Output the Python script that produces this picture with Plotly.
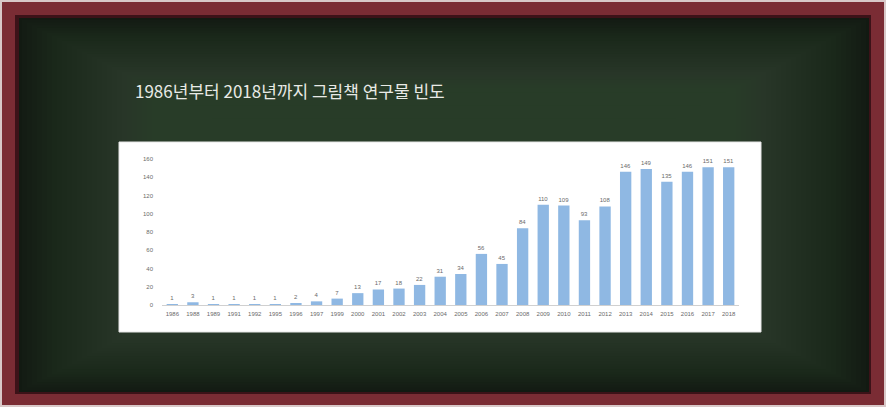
import plotly.graph_objects as go

years = ["1986", "1988", "1989", "1991", "1992", "1995", "1996", "1997", "1999", "2000",
         "2001", "2002", "2003", "2004", "2005", "2006", "2007", "2008", "2009", "2010",
         "2011", "2012", "2013", "2014", "2015", "2016", "2017", "2018"]
counts = [1, 3, 1, 1, 1, 1, 2, 4, 7, 13,
          17, 18, 22, 31, 34, 56, 45, 84, 110, 109,
          93, 108, 146, 149, 135, 146, 151, 151]
y_ticks = [0, 20, 40, 60, 80, 100, 120, 140, 160]
title_text = "1986년부터 2018년까지 그림책 연구물 빈도"

W, H = 886, 407
L, R, T, B = 162, 147, 159, 102
pw, ph = W - L - R, H - T - B


def px(x):
    return (x - L) / pw


def py(y):
    return (H - B - y) / ph


def rect(x0, y0, x1, y1, fill, line=None, lw=0, opacity=1.0):
    return dict(type="rect", xref="paper", yref="paper", layer="below",
                x0=px(x0), x1=px(x1), y0=py(y1), y1=py(y0),
                fillcolor=fill, opacity=opacity,
                line=dict(color=line or "rgba(0,0,0,0)", width=lw))


shapes = []
# outer frame
shapes.append(rect(0, 0, W, H, "#d8c8c8"))
shapes.append(rect(2, 2, W - 2, H - 2, "#7a2c34"))
shapes.append(rect(15, 15, W - 15, H - 13, "#3c1218"))
# green panel with vignette
shapes.append(rect(19, 18, 869, 392, "#121a12"))
n = 40
for i in range(n):
    inset_x = 3 + i * 5
    inset_y = 2 + i * 2.6
    shapes.append(rect(19 + inset_x, 18 + inset_y, 869 - inset_x, 392 - inset_y,
                       "#3a4e38", opacity=0.05))
# white chart box
shapes.append(rect(119, 142, 761, 332, "#ffffff", line="#e6e6e6", lw=1))

fig = go.Figure(go.Bar(
    x=years, y=counts,
    marker=dict(color="#8fb8e3", line=dict(width=0)),
    text=[str(c) for c in counts], textposition="outside",
    textfont=dict(size=6, color="#6a6a6a", family="Liberation Sans"),
    cliponaxis=False,
))

fig.update_layout(
    width=W, height=H,
    margin=dict(l=L, r=R, t=T, b=B, pad=0),
    paper_bgcolor="#7a2c34",
    plot_bgcolor="rgba(0,0,0,0)",
    bargap=0.45,
    showlegend=False,
    shapes=shapes,
    annotations=[dict(
        text=title_text, xref="paper", yref="paper",
        x=px(133), y=py(90), xanchor="left", yanchor="middle",
        showarrow=False,
        font=dict(size=17, color="#e8eae6", family="Noto Sans CJK KR"),
    )],
)
fig.update_xaxes(
    type="category", showgrid=False, showline=True, linecolor="#d0d0d0", linewidth=1,
    ticks="", tickfont=dict(size=6, color="#6a6a6a", family="Liberation Sans"),
    ticklabelstandoff=3, tickangle=0,
)
fig.update_yaxes(
    range=[0, 160], tickvals=y_ticks, showgrid=False, zeroline=False, showline=False,
    ticks="", tickfont=dict(size=6, color="#6a6a6a", family="Liberation Sans"),
    ticklabelstandoff=8,
)

fig.write_html("out.html")
